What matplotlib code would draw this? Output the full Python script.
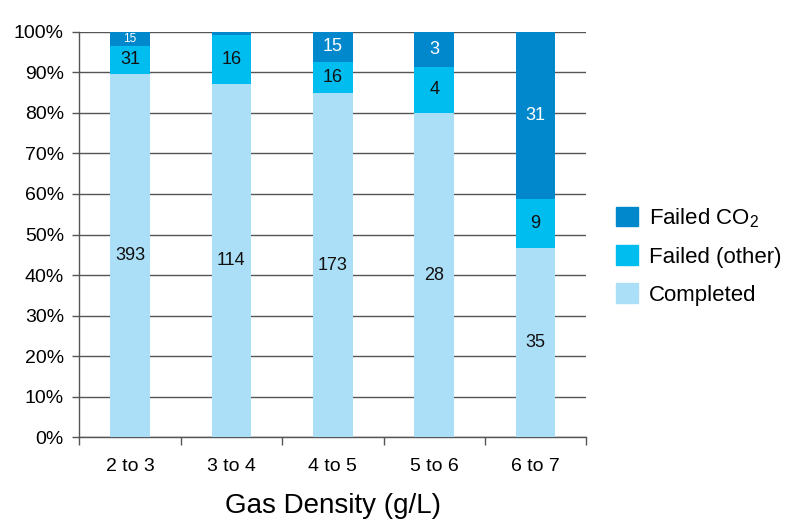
import numpy as np
import matplotlib

matplotlib.use("Agg")
import matplotlib.pyplot as plt
from matplotlib.patches import Patch
from matplotlib.ticker import FixedLocator, FuncFormatter

plt.rcParams["font.family"] = ["Liberation Sans", "DejaVu Sans"]
plt.rcParams["mathtext.default"] = "regular"

# counts per gas density bin
categories = ["2 to 3", "3 to 4", "4 to 5", "5 to 6", "6 to 7"]
completed = [393, 114, 173, 28, 35]
failed_other = [31, 16, 16, 4, 9]
failed_co2 = [15, 1, 15, 3, 31]

C_DONE = "#abdff8"
C_OTHER = "#00bdf0"
C_CO2 = "#0087cc"
GRID = "#555555"


def main():
    done = np.array(completed, dtype=float)
    other = np.array(failed_other, dtype=float)
    co2 = np.array(failed_co2, dtype=float)
    total = done + other + co2
    p_done = done / total * 100
    p_other = other / total * 100
    p_co2 = co2 / total * 100

    fig = plt.figure(figsize=(8, 5.3), dpi=100)
    ax = fig.add_axes([0.099, 0.175, 0.634, 0.765])
    x = np.arange(len(categories))
    w = 0.39

    ax.bar(x, p_done, width=w, color=C_DONE, zorder=3)
    ax.bar(x, p_other, width=w, bottom=p_done, color=C_OTHER, zorder=3)
    ax.bar(x, p_co2, width=w, bottom=p_done + p_other, color=C_CO2, zorder=3)

    # segment labels (the 3-to-4 CO2 sliver is too thin to carry one)
    for i in range(len(categories)):
        ax.text(x[i], p_done[i] / 2, f"{completed[i]}", ha="center", va="center",
                fontsize=13, color="#111111", zorder=4)
        ax.text(x[i], p_done[i] + p_other[i] / 2, f"{failed_other[i]}", ha="center",
                va="center", fontsize=13, color="#111111", zorder=4)
        if p_co2[i] > 5:
            ax.text(x[i], p_done[i] + p_other[i] + p_co2[i] / 2, f"{failed_co2[i]}",
                    ha="center", va="center", fontsize=13, color="white", zorder=4)
        elif p_co2[i] > 2:
            ax.text(x[i], p_done[i] + p_other[i] + p_co2[i] / 2, f"{failed_co2[i]}",
                    ha="center", va="center", fontsize=8.5, color="white", zorder=4)

    ax.set_xlim(-0.5, len(categories) - 0.5)
    ax.set_ylim(0, 100)
    ax.set_yticks(np.arange(0, 101, 10))
    ax.yaxis.set_major_formatter(FuncFormatter(lambda v, _: f"{v:.0f}%"))
    ax.yaxis.grid(True, color=GRID, linewidth=1.0, zorder=0)
    ax.set_axisbelow(True)

    ax.set_xticks(x)
    ax.set_xticklabels(categories)
    ax.xaxis.set_minor_locator(FixedLocator(np.arange(-0.5, len(categories), 1.0)))
    ax.tick_params(axis="x", which="major", length=0, pad=15, labelsize=14)
    ax.tick_params(axis="x", which="minor", length=6, width=1, color=GRID, direction="out")
    ax.tick_params(axis="y", length=5, width=1, color=GRID, labelsize=14, pad=6)

    for s in ("top", "right"):
        ax.spines[s].set_visible(False)
    for s in ("left", "bottom"):
        ax.spines[s].set_color(GRID)
        ax.spines[s].set_linewidth(1.0)

    ax.set_xlabel("Gas Density (g/L)", fontsize=20, labelpad=13)

    handles = [Patch(color=C_CO2), Patch(color=C_OTHER), Patch(color=C_DONE)]
    labels = ["Failed CO$_2$", "Failed (other)", "Completed"]
    fig.legend(handles, labels, loc="center left", bbox_to_anchor=(0.745, 0.517),
               frameon=False, fontsize=16, handlelength=1.0, handleheight=1.0,
               handletextpad=0.5, labelspacing=0.7)

    fig.savefig("out.png", dpi=100)


if __name__ == "__main__":
    main()
